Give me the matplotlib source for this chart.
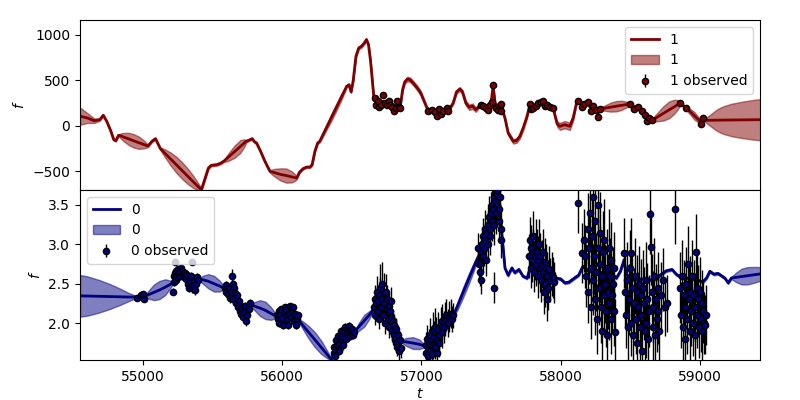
import numpy as np
import matplotlib
matplotlib.use("Agg")
import matplotlib.pyplot as plt

# ---------------- series "1" (top panel) : GP mean / std ----------------
top_curve = [
    (54548, 105, 95), (54600, 85, 55), (54650, 55, 25), (54690, 66, 12), (54715, 115, 10),
    (54740, 48, 10), (54770, -62, 10), (54790, -154, 10), (54805, -165, 10), (54825, -106, 10),
    (54845, -115, 32), (54860, -125, 45), (54900, -147, 68), (54930, -165, 74), (54970, -187, 68),
    (55005, -206, 45), (55022, -215, 28), (55036, -224, 12), (55065, -172, 10), (55090, -143, 10),
    (55105, -191, 10), (55125, -253, 12), (55142, -280, 30), (55160, -307, 45), (55200, -369, 72),
    (55240, -431, 88), (55280, -493, 92), (55320, -555, 85), (55360, -617, 68), (55395, -670, 40),
    (55410, -690, 25), (55420, -706, 12), (55455, -540, 12), (55470, -467, 12),
    (55490, -437, 12), (55530, -430, 12), (55560, -412, 12), (55585, -386, 12),
    (55600, -365, 30), (55620, -338, 45), (55660, -284, 68), (55700, -229, 70), (55725, -195, 45),
    (55735, -182, 28), (55742, -172, 12),
    (55770, -154, 10), (55785, -143, 10), (55800, -176, 10), (55816, -191, 10), (55845, -283, 10),
    (55876, -393, 10), (55912, -503, 12), (55930, -512, 30), (55950, -520, 45), (55990, -538, 68),
    (56030, -550, 78), (56070, -565, 60), (56090, -571, 38), (56104, -577, 15), (56125, -511, 10),
    (56150, -474, 10), (56175, -456, 10),
    (56200, -456, 10), (56215, -430, 10), (56235, -283, 10), (56255, -191, 10), (56270, -172, 12),
    (56310, -46, 25), (56350, 79, 35), (56390, 205, 38), (56430, 330, 30), (56463, 434, 12),
    (56480, 452, 10), (56495, 372, 10), (56510, 496, 12), (56530, 765, 15), (56550, 857, 15),
    (56570, 876, 15), (56590, 912, 15), (56605, 949, 15), (56620, 893, 15), (56635, 710, 12),
    (56650, 452, 10), (56660, 287, 10), (56680, 260, 10), (56700, 240, 10), (56720, 270, 10),
    (56740, 245, 10), (56760, 250, 10), (56780, 215, 10), (56800, 185, 10), (56820, 230, 10),
    (56840, 205, 10), (56850, 230, 10), (56865, 397, 15), (56880, 482, 20), (56900, 515, 25),
    (56920, 505, 25), (56945, 463, 25), (56970, 416, 25), (56995, 360, 25), (57020, 269, 20),
    (57040, 195, 15), (57060, 165, 10), (57090, 150, 10), (57120, 150, 10), (57150, 165, 10),
    (57180, 180, 10), (57205, 190, 10), (57228, 250, 15), (57252, 372, 20), (57276, 405, 20),
    (57295, 372, 20), (57319, 250, 25), (57343, 203, 30), (57367, 215, 30), (57391, 177, 25),
    (57415, 215, 15), (57440, 225, 10), (57470, 215, 10), (57500, 245, 10), (57515, 440, 10),
    (57530, 240, 10), (57560, 215, 10), (57585, 160, 10), (57600, 85, 15), (57623, -81, 20),
    (57659, -172, 25), (57683, -165, 25), (57707, -117, 25), (57731, -25, 25), (57755, 85, 20),
    (57779, 225, 12), (57800, 200, 10), (57830, 230, 10), (57860, 255, 10), (57890, 250, 10),
    (57920, 225, 10), (57946, 200, 10), (57958, 121, 15), (57975, 19, 30), (57994, -7, 38),
    (58030, 11, 40), (58066, -7, 40), (58090, 85, 30), (58114, 250, 12), (58130, 265, 10),
    (58160, 210, 10), (58190, 245, 10), (58220, 190, 10), (58250, 185, 10), (58270, 140, 10),
    (58282, 190, 10), (58300, 191, 20), (58320, 194, 30), (58360, 205, 50), (58400, 215, 57),
    (58440, 225, 50), (58475, 234, 30), (58488, 237, 20), (58497, 239, 10), (58520, 215, 10),
    (58550, 200, 10), (58580, 165, 10), (58610, 110, 10), (58640, 75, 10), (58657, 60, 10),
    (58675, 77, 32), (58700, 100, 50), (58740, 137, 80), (58780, 175, 92), (58820, 212, 75),
    (58845, 235, 45), (58855, 244, 28), (58861, 250, 12), (58897, 200, 12), (58912, 180, 22),
    (58930, 155, 30), (58960, 110, 42), (58990, 65, 30), (59002, 48, 18), (59012, 30, 10),
    (59024, 60, 10), (59036, 58, 15), (59055, 59, 40), (59080, 60, 68), (59105, 60, 98),
    (59130, 61, 125), (59170, 62, 153), (59230, 63, 180), (59310, 64, 202), (59380, 65, 218),
    (59440, 66, 228),
]

top_obs = [
    (56666, 305), (56673, 232), (56685, 269), (56692, 203), (56707, 225), (56725, 335),
    (56738, 250), (56750, 225), (56764, 269), (56774, 225), (56790, 203), (56805, 165),
    (56817, 195), (56826, 269), (56838, 203), (56845, 192),
    (57049, 159), (57073, 177), (57097, 151), (57109, 104), (57128, 188), (57138, 129),
    (57157, 159), (57181, 195), (57192, 159),
    (57427, 225), (57444, 214), (57463, 195), (57480, 177), (57492, 225), (57504, 261),
    (57515, 452), (57535, 195), (57547, 177), (57564, 214), (57573, 239), (57575, 159),
    (57779, 239), (57786, 188), (57803, 195), (57822, 214), (57839, 250), (57856, 261),
    (57875, 276), (57887, 214), (57904, 225), (57923, 203), (57942, 195),
    (58126, 276), (58150, 203), (58169, 239), (58198, 261), (58215, 159), (58229, 214),
    (58253, 177), (58270, 93), (58282, 188),
    (58497, 239), (58528, 184), (58557, 203), (58586, 159), (58605, 115), (58617, 49),
    (58636, 85), (58657, 60),
    (58861, 250), (58897, 195), (59009, 19), (59024, 85),
]
top_obs_err = 15

# ---------------- series "0" (bottom panel) : GP mean / std ----------------
bot_curve = [
    (54548, 2.345, 0.265), (54600, 2.343, 0.25), (54680, 2.34, 0.21), (54760, 2.337, 0.16),
    (54840, 2.333, 0.10), (54900, 2.33, 0.05), (54950, 2.33, 0.015), (54980, 2.335, 0.012),
    (55012, 2.34, 0.015), (55025, 2.35, 0.03), (55040, 2.36, 0.05), (55080, 2.39, 0.10),
    (55120, 2.42, 0.115), (55160, 2.455, 0.10), (55195, 2.49, 0.05), (55215, 2.51, 0.015),
    (55240, 2.58, 0.012), (55270, 2.63, 0.012), (55300, 2.62, 0.012), (55330, 2.56, 0.012),
    (55360, 2.54, 0.012), (55390, 2.56, 0.012), (55407, 2.55, 0.015), (55430, 2.55, 0.05),
    (55470, 2.53, 0.09), (55510, 2.50, 0.10), (55550, 2.47, 0.07), (55570, 2.455, 0.04),
    (55587, 2.445, 0.015), (55620, 2.42, 0.012),
    (55660, 2.36, 0.012), (55700, 2.26, 0.012), (55740, 2.20, 0.012), (55768, 2.233, 0.015),
    (55785, 2.225, 0.03), (55800, 2.215, 0.05), (55840, 2.19, 0.10), (55880, 2.16, 0.11),
    (55920, 2.12, 0.08), (55942, 2.10, 0.045), (55960, 2.085, 0.015), (56000, 2.08, 0.012),
    (56040, 2.10, 0.012), (56080, 2.08, 0.012),
    (56115, 2.042, 0.015), (56130, 2.01, 0.03), (56150, 1.968, 0.05), (56190, 1.883, 0.08),
    (56235, 1.788, 0.095), (56280, 1.692, 0.085), (56320, 1.607, 0.05), (56340, 1.565, 0.03),
    (56355, 1.533, 0.015), (56367, 1.597, 0.012),
    (56391, 1.767, 0.012), (56420, 1.80, 0.012), (56450, 1.87, 0.012), (56490, 1.895, 0.012),
    (56522, 1.895, 0.015), (56535, 1.92, 0.03), (56550, 1.95, 0.05), (56590, 2.03, 0.075),
    (56625, 2.10, 0.05), (56640, 2.135, 0.03),
    (56654, 2.17, 0.015), (56680, 2.233, 0.015), (56720, 2.19, 0.015), (56760, 2.085, 0.015),
    (56800, 1.936, 0.015), (56840, 1.81, 0.015), (56858, 1.767, 0.015), (56872, 1.763, 0.03),
    (56890, 1.76, 0.05), (56940, 1.745, 0.075), (56985, 1.73, 0.06), (57008, 1.717, 0.035),
    (57025, 1.704, 0.015), (57060, 1.73, 0.015),
    (57100, 1.80, 0.015), (57150, 1.94, 0.015), (57200, 2.06, 0.015), (57228, 2.09, 0.02),
    (57260, 2.22, 0.05), (57300, 2.39, 0.065), (57340, 2.56, 0.065), (57380, 2.73, 0.05),
    (57420, 2.89, 0.02), (57440, 2.953, 0.015), (57470, 3.12, 0.015), (57500, 3.29, 0.015),
    (57530, 3.55, 0.015), (57560, 3.60, 0.015), (57570, 3.29, 0.015), (57583, 3.04, 0.015),
    (57600, 2.70, 0.015), (57623, 2.606, 0.015), (57650, 2.70, 0.015), (57670, 2.64, 0.015),
    (57700, 2.68, 0.015), (57730, 2.594, 0.015), (57760, 2.57, 0.015), (57779, 2.70, 0.015),
    (57800, 2.87, 0.015), (57840, 2.79, 0.015), (57870, 2.79, 0.015), (57900, 2.74, 0.015),
    (57946, 2.61, 0.015), (57970, 2.57, 0.015), (58000, 2.56, 0.015), (58030, 2.51, 0.015),
    (58060, 2.52, 0.015), (58090, 2.56, 0.015), (58130, 2.61, 0.015), (58160, 2.72, 0.015),
    (58200, 2.66, 0.015), (58250, 2.65, 0.015), (58300, 2.64, 0.015), (58350, 2.62, 0.015),
    (58389, 2.594, 0.015), (58400, 2.57, 0.015), (58430, 2.66, 0.015), (58456, 2.805, 0.015),
    (58470, 2.62, 0.015), (58520, 2.55, 0.015), (58580, 2.56, 0.015), (58640, 2.55, 0.015),
    (58690, 2.56, 0.015), (58713, 2.606, 0.015), (58760, 2.665, 0.015), (58800, 2.68, 0.015),
    (58830, 2.62, 0.015), (58870, 2.57, 0.015), (58920, 2.57, 0.015), (58980, 2.55, 0.015),
    (59020, 2.52, 0.015), (59048, 2.572, 0.015), (59072, 2.657, 0.015), (59100, 2.62, 0.015),
    (59130, 2.63, 0.015), (59155, 2.60, 0.015), (59180, 2.57, 0.015), (59203, 2.51, 0.015),
    (59227, 2.572, 0.015), (59242, 2.576, 0.035), (59260, 2.58, 0.06), (59300, 2.59, 0.10),
    (59340, 2.60, 0.11), (59390, 2.612, 0.10), (59440, 2.625, 0.085),
]

# observed points of series "0": (t, f, err)
bot_obs_a = [
    (54960, 2.32, 0.03), (54985, 2.35, 0.03), (55000, 2.37, 0.03), (55005, 2.30, 0.03),
    (55218, 2.40, 0.04), (55222, 2.52, 0.05), (55225, 2.60, 0.05), (55230, 2.63, 0.04),
    (55232, 2.78, 0.04), (55236, 2.55, 0.05), (55240, 2.66, 0.05), (55245, 2.58, 0.04),
    (55250, 2.62, 0.05), (55255, 2.68, 0.05), (55262, 2.64, 0.04), (55268, 2.60, 0.05),
    (55275, 2.70, 0.05), (55280, 2.66, 0.04), (55288, 2.62, 0.05), (55295, 2.58, 0.05),
    (55300, 2.64, 0.04), (55308, 2.56, 0.06), (55315, 2.61, 0.05), (55322, 2.50, 0.05),
    (55330, 2.45, 0.06), (55338, 2.53, 0.05), (55345, 2.60, 0.05), (55350, 2.44, 0.06),
    (55354, 2.78, 0.04), (55360, 2.48, 0.05), (55366, 2.55, 0.05), (55372, 2.42, 0.06),
    (55378, 2.50, 0.05), (55385, 2.58, 0.05), (55395, 2.55, 0.05),
]
bot_obs_b = [
    (55590, 2.45, 0.05), (55595, 2.40, 0.05), (55600, 2.48, 0.05), (55610, 2.37, 0.06),
    (55618, 2.44, 0.05), (55625, 2.32, 0.06), (55632, 2.40, 0.05), (55640, 2.60, 0.08),
    (55645, 2.50, 0.05), (55650, 2.30, 0.06), (55655, 2.45, 0.05), (55660, 2.38, 0.06),
    (55668, 2.26, 0.06), (55675, 2.35, 0.05), (55680, 2.20, 0.06), (55688, 2.28, 0.05),
    (55695, 2.15, 0.06), (55700, 2.22, 0.05), (55706, 2.12, 0.06), (55712, 2.18, 0.05),
    (55720, 2.08, 0.06), (55728, 2.14, 0.05), (55735, 2.22, 0.05), (55742, 2.03, 0.07),
    (55750, 2.10, 0.05), (55760, 2.18, 0.05), (55770, 2.25, 0.05),
    (55962, 2.10, 0.04), (55968, 2.05, 0.04), (55975, 2.15, 0.04), (55980, 2.00, 0.05),
    (55988, 2.12, 0.04), (55995, 2.18, 0.04), (56000, 2.07, 0.04), (56005, 1.98, 0.05),
    (56012, 2.14, 0.04), (56018, 2.20, 0.04), (56025, 2.10, 0.04), (56030, 2.16, 0.04),
    (56036, 2.05, 0.04), (56042, 1.97, 0.05), (56048, 2.12, 0.04), (56055, 2.22, 0.04),
    (56060, 2.18, 0.04), (56066, 2.08, 0.04), (56072, 2.14, 0.04), (56080, 2.20, 0.04),
    (56086, 2.02, 0.05), (56092, 2.12, 0.04), (56100, 1.98, 0.05), (56108, 2.05, 0.04),
    (56112, 2.10, 0.04),
]
bot_obs_c = [
    (56370, 1.62, 0.05), (56375, 1.70, 0.05), (56380, 1.58, 0.06), (56385, 1.78, 0.05),
    (56390, 1.66, 0.05), (56395, 1.72, 0.05), (56400, 1.83, 0.05), (56405, 1.75, 0.05),
    (56410, 1.65, 0.06), (56415, 1.85, 0.05), (56420, 1.78, 0.05), (56425, 1.90, 0.05),
    (56430, 1.82, 0.05), (56436, 1.72, 0.06), (56442, 1.88, 0.05), (56448, 1.95, 0.05),
    (56455, 1.85, 0.05), (56460, 1.80, 0.05), (56466, 1.92, 0.05), (56472, 1.87, 0.05),
    (56478, 1.96, 0.05), (56485, 1.83, 0.05), (56492, 1.90, 0.05), (56500, 1.93, 0.05),
    (56508, 1.85, 0.05), (56515, 1.88, 0.05),
    (56660, 2.20, 0.15), (56665, 2.30, 0.18), (56670, 2.10, 0.12), (56675, 2.25, 0.15),
    (56680, 2.40, 0.20), (56685, 2.15, 0.14), (56690, 2.28, 0.16), (56695, 2.05, 0.12),
    (56700, 2.35, 0.22), (56705, 2.45, 0.30), (56710, 2.20, 0.15), (56715, 2.50, 0.28),
    (56720, 2.30, 0.20), (56725, 2.10, 0.14), (56730, 2.38, 0.25), (56735, 2.25, 0.15),
    (56740, 2.00, 0.14), (56745, 2.40, 0.22), (56750, 2.18, 0.16), (56755, 2.30, 0.18),
    (56760, 2.05, 0.14), (56765, 2.22, 0.16), (56770, 1.95, 0.14), (56775, 2.15, 0.16),
    (56780, 2.28, 0.18), (56785, 2.08, 0.14), (56790, 1.90, 0.14), (56795, 2.02, 0.14),
    (56800, 1.85, 0.13), (56805, 1.98, 0.14), (56810, 1.80, 0.12), (56815, 1.92, 0.14),
    (56820, 1.75, 0.12), (56825, 1.70, 0.12), (56830, 1.85, 0.13), (56838, 1.65, 0.12),
    (56845, 1.78, 0.12), (56852, 1.68, 0.12),
]
bot_obs_d = [
    (57030, 1.72, 0.16), (57035, 1.62, 0.14), (57040, 1.80, 0.18), (57045, 1.68, 0.16),
    (57050, 1.58, 0.14), (57055, 1.75, 0.18), (57060, 1.85, 0.22), (57065, 1.65, 0.16),
    (57070, 1.78, 0.18), (57075, 1.60, 0.14), (57080, 1.90, 0.24), (57085, 1.72, 0.18),
    (57090, 1.82, 0.20), (57095, 1.95, 0.24), (57100, 1.70, 0.16), (57105, 1.88, 0.20),
    (57110, 1.78, 0.18), (57115, 1.62, 0.15), (57120, 1.92, 0.22), (57125, 1.85, 0.20),
    (57130, 1.75, 0.18), (57140, 1.98, 0.22), (57145, 1.88, 0.20), (57150, 2.02, 0.22),
    (57160, 1.95, 0.20), (57170, 2.05, 0.22), (57180, 2.10, 0.20), (57190, 2.00, 0.18),
    (57200, 2.08, 0.20), (57210, 2.12, 0.18), (57218, 2.05, 0.16), (57225, 2.10, 0.16),
    (57410, 2.95, 0.20), (57415, 2.75, 0.18), (57420, 2.65, 0.18), (57425, 2.55, 0.18),
    (57430, 2.90, 0.22), (57435, 3.00, 0.22), (57440, 2.85, 0.20), (57445, 3.10, 0.24),
    (57450, 2.95, 0.22), (57455, 3.20, 0.24), (57460, 3.05, 0.22), (57465, 2.80, 0.20),
    (57470, 3.15, 0.24), (57475, 3.25, 0.26), (57480, 3.00, 0.22), (57485, 3.35, 0.26),
    (57490, 3.20, 0.24), (57495, 3.10, 0.24), (57500, 3.40, 0.27), (57505, 3.30, 0.26),
    (57510, 3.50, 0.27), (57515, 3.45, 0.27), (57518, 2.45, 0.20), (57520, 3.25, 0.26),
    (57525, 3.60, 0.27), (57530, 3.55, 0.27), (57535, 3.40, 0.27), (57540, 3.68, 0.27),
    (57545, 3.50, 0.27), (57550, 3.62, 0.27), (57555, 3.45, 0.26), (57560, 3.30, 0.24),
    (57565, 3.60, 0.27), (57570, 3.20, 0.24), (57575, 3.05, 0.22),
]
bot_obs_e = [
    (57775, 2.85, 0.28), (57780, 3.05, 0.30), (57785, 2.70, 0.26), (57790, 2.95, 0.30),
    (57795, 2.80, 0.28), (57800, 3.10, 0.32), (57805, 2.90, 0.30), (57810, 2.65, 0.26),
    (57815, 2.85, 0.30), (57820, 3.00, 0.32), (57825, 2.75, 0.28), (57830, 2.90, 0.30),
    (57835, 2.60, 0.28), (57840, 2.80, 0.30), (57845, 3.00, 0.32), (57850, 2.70, 0.30),
    (57855, 2.85, 0.30), (57860, 2.55, 0.28), (57865, 2.75, 0.30), (57870, 2.90, 0.30),
    (57875, 2.65, 0.30), (57880, 2.40, 0.28), (57885, 2.78, 0.30), (57890, 2.50, 0.30),
    (57895, 2.70, 0.30), (57900, 2.30, 0.28), (57905, 2.60, 0.30), (57910, 2.45, 0.28),
    (57915, 2.68, 0.30), (57925, 2.55, 0.28), (57935, 2.62, 0.28), (57945, 2.58, 0.26),
    (57955, 2.52, 0.26),
    (58126, 3.52, 0.38), (58150, 2.89, 0.38), (58165, 3.05, 0.40), (58175, 2.85, 0.40),
    (58185, 2.60, 0.40), (58195, 3.20, 0.45), (58200, 2.40, 0.40), (58205, 2.95, 0.45),
    (58210, 3.40, 0.50), (58215, 2.70, 0.45), (58220, 2.20, 0.40), (58225, 3.10, 0.50),
    (58230, 2.55, 0.45), (58235, 3.60, 0.55), (58240, 2.85, 0.50), (58245, 2.30, 0.45),
    (58250, 3.30, 0.55), (58255, 2.65, 0.50), (58260, 2.05, 0.45), (58265, 2.95, 0.52),
    (58270, 3.50, 0.55), (58275, 2.45, 0.48), (58280, 2.75, 0.50), (58285, 3.15, 0.52),
    (58290, 2.20, 0.46), (58295, 1.90, 0.42), (58300, 2.60, 0.50), (58305, 2.90, 0.52),
    (58310, 2.35, 0.48), (58315, 3.05, 0.52), (58320, 2.50, 0.50), (58325, 2.15, 0.46),
    (58330, 2.70, 0.50), (58335, 1.85, 0.42), (58340, 2.40, 0.48), (58345, 2.95, 0.50),
    (58350, 2.25, 0.46), (58355, 2.60, 0.48), (58360, 2.05, 0.44), (58365, 2.80, 0.48),
    (58370, 2.35, 0.46), (58375, 2.50, 0.46), (58380, 2.15, 0.44), (58385, 2.70, 0.46),
    (58390, 1.88, 0.42),
]
bot_obs_f = [
    (58455, 2.89, 0.45), (58462, 2.40, 0.45), (58470, 2.10, 0.42), (58478, 2.55, 0.48),
    (58485, 1.95, 0.42), (58490, 2.30, 0.45), (58497, 2.70, 0.48), (58505, 2.00, 0.42),
    (58509, 2.89, 0.45), (58515, 2.45, 0.46), (58520, 1.85, 0.42), (58526, 2.25, 0.45),
    (58532, 2.60, 0.48), (58538, 2.05, 0.44), (58545, 2.40, 0.46), (58550, 1.75, 0.40),
    (58556, 2.20, 0.45), (58562, 2.50, 0.48), (58568, 1.95, 0.44), (58574, 2.35, 0.46),
    (58580, 2.10, 0.45), (58586, 1.65, 0.40), (58592, 2.45, 0.48), (58598, 2.25, 0.46),
    (58604, 1.90, 0.44), (58610, 2.55, 0.48), (58616, 2.00, 0.45), (58622, 2.30, 0.46),
    (58628, 1.80, 0.44), (58634, 2.15, 0.46), (58641, 3.38, 0.50), (58648, 2.96, 0.48),
    (58655, 2.40, 0.48), (58660, 1.95, 0.44), (58666, 2.20, 0.46), (58672, 2.60, 0.48),
    (58678, 1.85, 0.42), (58684, 2.30, 0.45), (58690, 2.05, 0.42), (58696, 2.45, 0.45),
    (58702, 2.15, 0.42), (58710, 1.90, 0.40), (58720, 2.35, 0.42), (58735, 2.55, 0.40),
    (58750, 2.20, 0.36), (58765, 2.25, 0.36), (58820, 3.45, 0.45),
    (58860, 2.45, 0.45), (58866, 2.10, 0.42), (58872, 2.60, 0.46), (58878, 1.95, 0.42),
    (58884, 2.35, 0.45), (58890, 2.20, 0.44), (58896, 1.80, 0.40), (58902, 2.50, 0.46),
    (58908, 2.05, 0.44), (58914, 2.75, 0.48), (58920, 2.30, 0.45), (58926, 1.90, 0.42),
    (58932, 2.40, 0.45), (58938, 2.15, 0.44), (58944, 2.60, 0.46), (58950, 2.00, 0.42),
    (58956, 2.35, 0.45), (58962, 2.20, 0.44), (58968, 1.85, 0.40), (58971, 2.90, 0.48),
    (58976, 2.45, 0.45), (58982, 2.10, 0.42), (58988, 2.30, 0.44), (58994, 1.95, 0.40),
    (59000, 2.40, 0.44), (59006, 2.05, 0.42), (59012, 2.25, 0.42), (59018, 1.90, 0.40),
    (59024, 2.15, 0.40), (59030, 2.00, 0.40), (59036, 1.98, 0.38), (59042, 2.10, 0.38),
]

top_color = "#800000"
bot_color = "#000080"

fig, (ax1, ax2) = plt.subplots(2, 1, sharex=True, figsize=(8, 4), dpi=100)
fig.subplots_adjust(left=0.1, right=0.95, top=0.95, bottom=0.1, hspace=0)


def draw(ax, curve, obs_t, obs_f, obs_e, color, name):
    t = np.array([c[0] for c in curve], float)
    m = np.array([c[1] for c in curve], float)
    s = np.array([c[2] for c in curve], float)
    ax.plot(t, m, color=color, lw=2, label=name, zorder=2)
    ax.fill_between(t, m - s, m + s, color=color, alpha=0.5, label=name, zorder=1)
    ax.errorbar(obs_t, obs_f, yerr=obs_e, fmt="o", ms=4.5, mfc=color, mec="black",
                mew=1, ecolor="black", elinewidth=1, label=f"{name} observed", zorder=3)


tt = [o[0] for o in top_obs]
tf = [o[1] for o in top_obs]
draw(ax1, top_curve, tt, tf, top_obs_err, top_color, "1")

bot_obs = bot_obs_a + bot_obs_b + bot_obs_c + bot_obs_d + bot_obs_e + bot_obs_f
bt = [o[0] for o in bot_obs]
bf = [o[1] for o in bot_obs]
be = [o[2] for o in bot_obs]
draw(ax2, bot_curve, bt, bf, be, bot_color, "0")

ax1.set_xlim(54548, 59432)
ax1.set_ylim(-709, 1165)
ax2.set_ylim(1.53, 3.69)
ax1.set_yticks([-500, 0, 500, 1000])
ax2.set_yticks([2.0, 2.5, 3.0, 3.5])
ax2.set_xticks([55000, 56000, 57000, 58000, 59000])
ax1.set_ylabel("$f$")
ax2.set_ylabel("$f$")
ax2.set_xlabel("$t$", labelpad=2)
ax1.legend(loc="upper right")
ax2.legend(loc="upper left")

fig.savefig("out.png", dpi=100)
